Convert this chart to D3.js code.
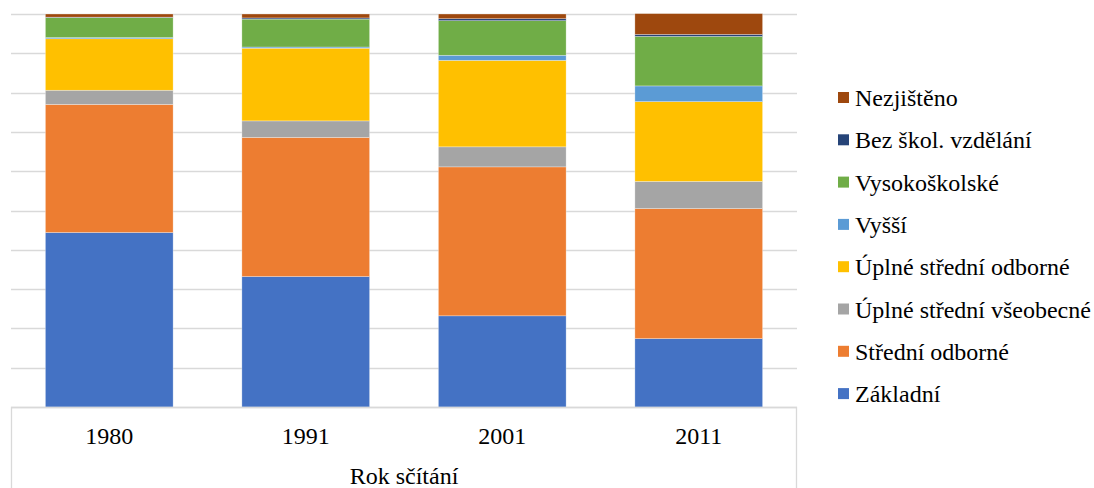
<!DOCTYPE html>
<html>
<head>
<meta charset="utf-8">
<script src="https://cdn.jsdelivr.net/npm/d3@7"></script>
</head>
<body style="margin:0">
<svg id="chart" width="1094" height="488" style="display:block"></svg>
<script>
// Census years (categories)
const years = ["1980", "1991", "2001", "2011"];

// Education levels, stacked from bottom to top (shares in %)
const levels = [
  "Základní",
  "Střední odborné",
  "Úplné střední všeobecné",
  "Úplné střední odborné",
  "Vyšší",
  "Vysokoškolské",
  "Bez škol. vzdělání",
  "Nezjištěno"
];

const zakladni        = [44.4, 33.2, 23.2, 17.4];
const stredniOdborne  = [32.6, 35.4, 37.9, 33.1];
const uplneVseobecne  = [3.6, 4.2, 5.1, 6.9];
const uplneOdborne    = [13.1, 18.5, 22.0, 20.3];
const vyssi           = [0.3, 0.3, 1.3, 4.0];
const vysokoskolske   = [5.1, 7.1, 8.8, 12.6];
const bezVzdelani     = [0.1, 0.3, 0.5, 0.5];
const nezjisteno      = [0.8, 1.0, 1.2, 5.3];

const seriesValues = [
  zakladni, stredniOdborne, uplneVseobecne, uplneOdborne,
  vyssi, vysokoskolske, bezVzdelani, nezjisteno
];

const colors = [
  "#4472C4", "#ED7D31", "#A5A5A5", "#FFC000",
  "#5B9BD5", "#70AD47", "#264478", "#9E480E"
];

const axisTitle = "Rok sčítání";

const FONT = "'Liberation Serif'";

// Build rows for d3.stack
const rows = years.map((y, i) => {
  const r = { year: y };
  levels.forEach((l, k) => { r[l] = seriesValues[k][i]; });
  return r;
});

const stacked = d3.stack().keys(levels)(rows);

const svg = d3.select("#chart");

const plot = { left: 11, right: 797, top: 14, bottom: 407 };

const x = d3.scaleBand()
  .domain(years)
  .range([plot.left, plot.right])
  .paddingInner(0.35)
  .paddingOuter(0.175);

const y = d3.scaleLinear()
  .domain([0, 100])
  .range([plot.bottom, plot.top]);

const color = d3.scaleOrdinal().domain(levels).range(colors);

// Horizontal gridlines every 10 %
svg.append("g")
  .selectAll("line")
  .data(y.ticks(10))
  .join("line")
  .attr("x1", plot.left)
  .attr("x2", plot.right)
  .attr("y1", d => Math.round(y(d)) + 0.5)
  .attr("y2", d => Math.round(y(d)) + 0.5)
  .attr("stroke", "#d9d9d9")
  .attr("stroke-width", 1.3);

// Stacked bars
svg.append("g")
  .selectAll("g")
  .data(stacked)
  .join("g")
  .attr("fill", d => color(d.key))
  .selectAll("rect")
  .data(d => d)
  .join("rect")
  .attr("x", d => x(d.data.year))
  .attr("width", x.bandwidth())
  .attr("y", d => y(d[1]))
  .attr("height", d => y(d[0]) - y(d[1]))
  .attr("stroke", "#ffffff")
  .attr("stroke-opacity", 0.5)
  .attr("stroke-width", 0.6);

// Category axis with framed label area
const axisG = svg.append("g");
axisG.append("path")
  .attr("d", `M${plot.left + 0.5},488 V${plot.bottom + 0.5} H${plot.right - 0.5} V488`)
  .attr("fill", "none")
  .attr("stroke", "#d9d9d9")
  .attr("stroke-width", 1.3);

axisG.selectAll("text.tick")
  .data(years)
  .join("text")
  .attr("class", "tick")
  .style("font-family", FONT)
  .attr("font-size", 24)
  .attr("x", d => x(d) + x.bandwidth() / 2)
  .attr("y", 444)
  .attr("text-anchor", "middle")
  .text(d => d);

axisG.append("text")
  .style("font-family", FONT)
  .attr("font-size", 24)
  .attr("x", (plot.left + plot.right) / 2)
  .attr("y", 484)
  .attr("text-anchor", "middle")
  .text(axisTitle);

// Legend, listed top-down in reverse stacking order
const legendItems = levels.slice().reverse();
const legend = svg.append("g").attr("transform", "translate(838,0)");
const item = legend.selectAll("g")
  .data(legendItems)
  .join("g")
  .attr("transform", (d, i) => `translate(0,${98 + i * 42.3})`);

item.append("rect")
  .attr("x", 0)
  .attr("y", -6)
  .attr("width", 11)
  .attr("height", 11)
  .attr("fill", d => color(d));

item.append("text")
  .style("font-family", FONT)
  .attr("font-size", 24)
  .attr("x", 17)
  .attr("y", 8)
  .text(d => d);
</script>
</body>
</html>
